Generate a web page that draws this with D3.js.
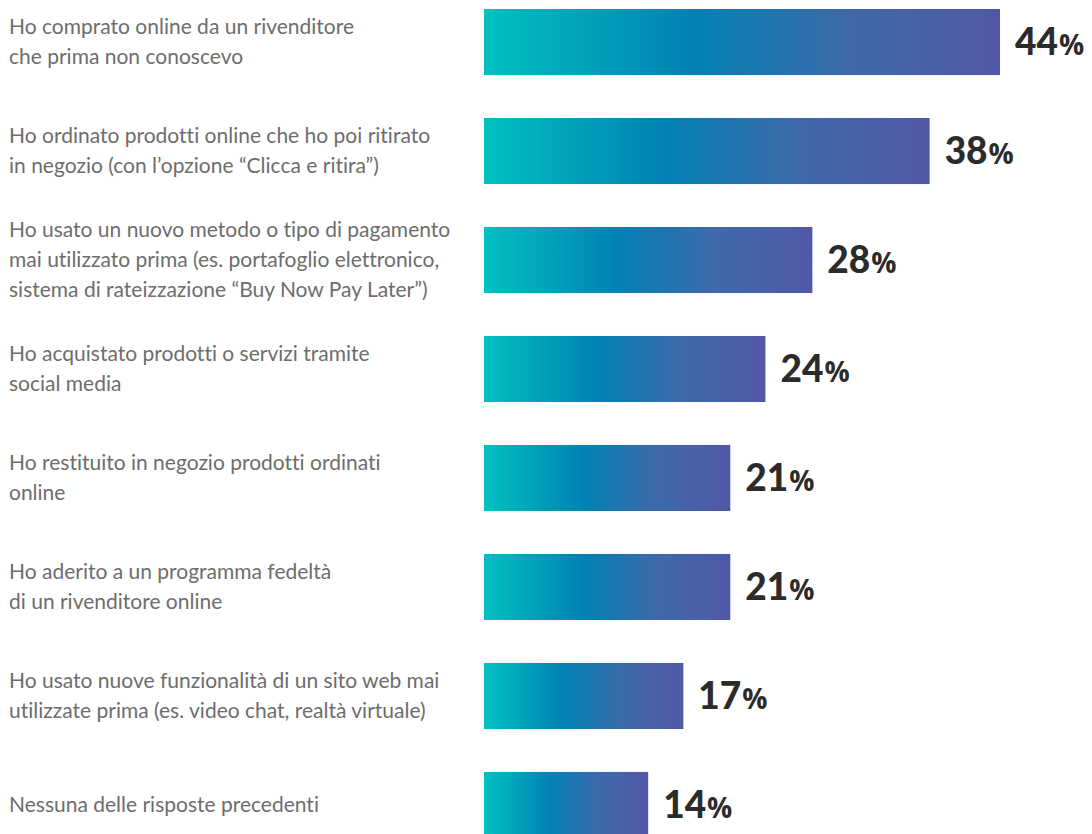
<!DOCTYPE html>
<html>
<head>
<meta charset="utf-8">
<script src="https://cdn.jsdelivr.net/npm/d3@7"></script>
<style>
  html, body { margin: 0; padding: 0; background: #ffffff; }
  svg { display: block; }
  text { font-variant-ligatures: none; font-feature-settings: "liga" 0, "clig" 0; }
</style>
</head>
<body>
<svg id="chart" width="1092" height="834"></svg>
<script>
// Answers (each label split into its display lines) and shares in percent
const categories = [
  ["Ho comprato online da un rivenditore", "che prima non conoscevo"],
  ["Ho ordinato prodotti online che ho poi ritirato", "in negozio (con l’opzione “Clicca e ritira”)"],
  ["Ho usato un nuovo metodo o tipo di pagamento", "mai utilizzato prima (es. portafoglio elettronico,", "sistema di rateizzazione “Buy Now Pay Later”)"],
  ["Ho acquistato prodotti o servizi tramite", "social media"],
  ["Ho restituito in negozio prodotti ordinati", "online"],
  ["Ho aderito a un programma fedeltà", "di un rivenditore online"],
  ["Ho usato nuove funzionalità di un sito web mai", "utilizzate prima (es. video chat, realtà virtuale)"],
  ["Nessuna delle risposte precedenti"]
];
const values = [44, 38, 28, 24, 21, 21, 17, 14];

const svg = d3.select("#chart");

const barLeft = 484;
const x = d3.scaleLinear().domain([0, 44]).range([barLeft, 1000]);
const y = d3.scaleBand()
  .domain(d3.range(values.length))
  .range([9, 838])
  .paddingInner(0.394)
  .paddingOuter(0);

// Horizontal teal → blue → violet fill, applied per bar
const defs = svg.append("defs");
const grad = defs.append("linearGradient")
  .attr("id", "barFill")
  .attr("x1", "0").attr("y1", "0").attr("x2", "1").attr("y2", "0");
grad.append("stop").attr("offset", "0%").attr("stop-color", "#00c1c0");
grad.append("stop").attr("offset", "40%").attr("stop-color", "#0082b4");
grad.append("stop").attr("offset", "70%").attr("stop-color", "#3d69ab");
grad.append("stop").attr("offset", "100%").attr("stop-color", "#5157a7");

const rows = svg.selectAll("g.row")
  .data(values)
  .join("g")
  .attr("class", "row");

rows.append("rect")
  .attr("x", x(0))
  .attr("y", (d, i) => y(i))
  .attr("width", d => x(d) - x(0))
  .attr("height", y.bandwidth())
  .attr("fill", "url(#barFill)");

// Value labels: large bold number with a smaller percent sign
const valueText = rows.append("text")
  .attr("x", d => x(d) + 15)
  .attr("y", (d, i) => y(i) + y.bandwidth() / 2 + 13)
  .attr("font-weight", 900)
  .attr("fill", "#2b2b2b");
valueText.append("tspan")
  .attr("font-family", "Lato, sans-serif")
  .attr("font-size", 37)
  .text(d => d);
valueText.append("tspan")
  .attr("font-family", "'Open Sans', sans-serif")
  .attr("font-weight", 700)
  .attr("font-size", 28)
  .attr("dx", 1)
  .text("%");

// Category labels, vertically centred on their bar
const lineH = 30;
rows.append("text")
  .attr("font-family", "Lato, sans-serif")
  .attr("font-size", 21)
  .attr("fill", "#6d6d6d")
  .each(function(d, i) {
    const lines = categories[i];
    const cy = y(i) + y.bandwidth() / 2;
    const first = cy - (lines.length - 1) * lineH / 2 + 7;
    d3.select(this).selectAll("tspan")
      .data(lines)
      .join("tspan")
      .attr("x", 9)
      .attr("y", (l, k) => first + k * lineH)
      .text(l => l);
  });
</script>
</body>
</html>
